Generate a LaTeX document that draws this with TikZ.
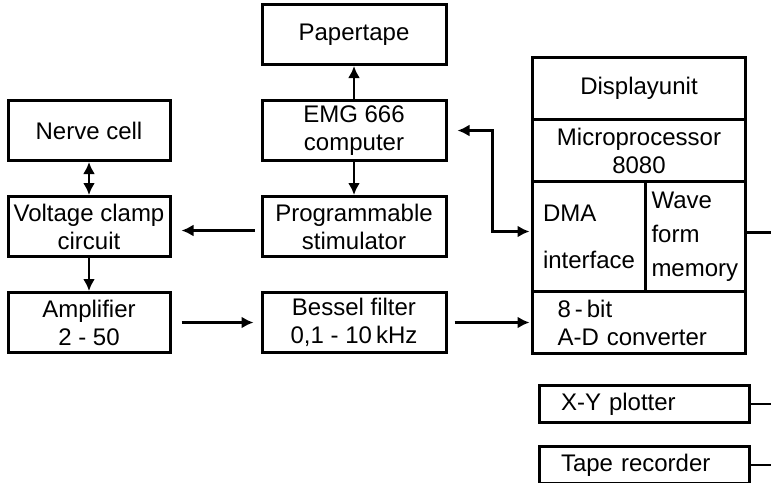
\documentclass[tikz,border=0pt]{standalone}
\usepackage{fontspec}
\setmainfont{Liberation Sans}
\usetikzlibrary{arrows.meta, positioning}

\begin{document}
\begin{tikzpicture}[
  unit/.style={rectangle, draw=black, line width=1.5pt, minimum width=81pt,
               minimum height=30pt, inner sep=2pt, align=center,
               font=\fontsize{12}{14}\selectfont},
  wide/.style={unit, minimum width=92pt},
  cell/.style={unit, outer sep=0pt, minimum width=106.5pt, minimum height=31pt},
  rec/.style={unit, minimum width=105pt, minimum height=18.5pt,
              text width=83pt, inner xsep=11pt, align=left},
  flow/.style={-{Latex[length=6pt, width=6pt]}, line width=1.4pt},
  both/.style={{Latex[length=6pt, width=6pt]}-{Latex[length=6pt, width=6pt]}, line width=1.4pt},
  wire/.style={line width=1.4pt}
]
  \useasboundingbox (0,0) rectangle (385.5pt,-241pt);
  \coordinate (edge) at (385.5pt,0);

  \node[unit] (nerve) at (44.5pt,-65.25pt) {Nerve cell};
  \node[unit, below=16.5pt of nerve] (clamp) {Voltage clamp\\circuit};
  \node[unit, below=16.5pt of clamp] (amp) {Amplifier\\2 - 50};

  \node[wide, right=44.5pt of nerve] (emg) {EMG 666\\computer};
  \node[wide, above=16.5pt of emg] (paper) {Papertape};
  \node[wide, right=44.5pt of clamp] (stim) {Programmable\\stimulator};
  \node[wide, right=44.5pt of amp] (bessel) {Bessel filter\\0,1 - 10\,kHz};

  \node[cell, right=42.5pt of bessel, text width=81.5pt, inner xsep=12.5pt, align=left] (adc) {8\,-\,bit\\A-D converter};
  \node[cell, above=0pt of adc.north west, anchor=south west, minimum width=56.5pt,
        minimum height=55pt, text width=46pt, inner xsep=5.25pt, align=left] (dma) {DMA\\[9.5pt]interface};
  \node[cell, above=0pt of adc.north east, anchor=south east, minimum width=50pt,
        minimum height=55pt, text width=44pt, inner xsep=3pt, align=left] (wave) {Wave\\[3pt]form\\[3pt]memory};
  \node[cell, above=0pt of dma.north west, anchor=south west] (micro) {Microprocessor\\8080};
  \node[cell, above=0pt of micro] (display) {Displayunit};

  \node[rec, below=15.2pt of adc.south west, anchor=north west, xshift=2.5pt] (xy) {X-Y plotter};
  \node[rec, below=10.5pt of xy] (tape) {Tape recorder};

  \draw[flow] (emg) -- (paper);
  \draw[flow] (emg) -- (stim);
  \draw[both] (nerve) -- (clamp);
  \draw[flow, shorten <=3pt, shorten >=5pt] ([yshift=-2pt]stim.west) -- ([yshift=-2pt]clamp.east);
  \draw[flow] (clamp) -- (amp);
  \draw[flow, shorten <=5pt, shorten >=3.5pt] (amp) -- (bessel);
  \draw[flow, shorten <=3.5pt, shorten >=1.5pt] (bessel) -- (adc);
  \draw[both, shorten <=5pt, shorten >=1.5pt] (emg.east) -| ([xshift=-20pt, yshift=2.5pt]dma.west) -- ([yshift=2.5pt]dma.west);

  \draw[wire] ([yshift=2pt]wave.east) -- ([yshift=2pt]wave.east -| edge);
  \draw[wire] (xy.east) -- (xy.east -| edge);
  \draw[wire] (tape.east) -- (tape.east -| edge);
\end{tikzpicture}
\end{document}
